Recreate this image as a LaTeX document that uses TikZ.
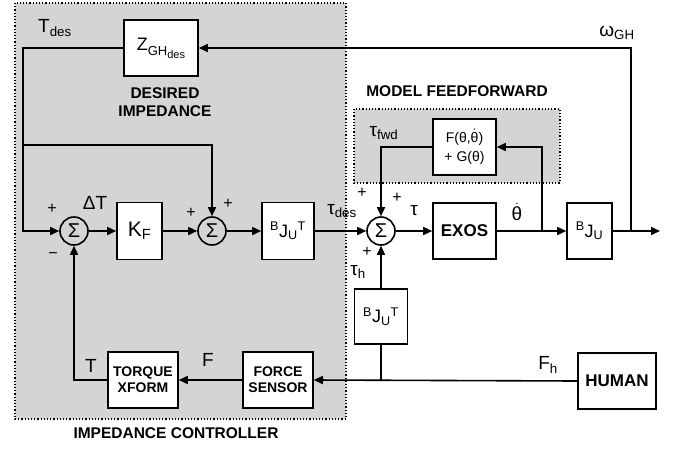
\documentclass[tikz,border=0pt]{standalone}
\usepackage{amsmath}
\usepackage{fontspec}
\setmainfont{Liberation Sans}
\usetikzlibrary{arrows.meta,positioning}
\definecolor{panel}{RGB}{212,212,212}
\tikzset{
    exo diagram/.style = {x=1pt, y=-1pt, >={Triangle[length=9pt,width=8pt]}},
    line/.style        = {line width=1.6pt},
    block/.style       = {draw, line width=1.6pt, fill=white, align=center,
                          inner sep=1pt, font=\fontsize{18}{19}\selectfont},
    tblock/.style      = {block, font=\bfseries\fontsize{14}{16}\selectfont},
    sum/.style         = {draw, line width=1.6pt, circle, minimum size=28pt,
                          inner sep=0pt, font=\fontsize{20}{20}\selectfont},
    sig/.style         = {font=\fontsize{19}{19}\selectfont},
    pm/.style          = {font=\fontsize{16}{16}\selectfont},
    caption/.style     = {font=\bfseries\fontsize{15.5}{18}\selectfont, align=center},
    enclosure/.style   = {draw, dotted, line width=1.2pt, fill=panel}
}
\newcommand{\thdot}{\ensuremath{\dot{\text{θ}}}}
\def\mainrow{231}
\def\toprow{48}
\def\botrow{380}

\begin{document}
\begin{tikzpicture}[exo diagram]
\useasboundingbox (0,0) rectangle (673,448);

% ================= Enclosures =================
\draw[enclosure] (15,3) rectangle (346,419);
\draw[enclosure] (354,109) rectangle (560,183);
\node[caption] (ctrlcap) at (176,433) {IMPEDANCE CONTROLLER};
\node[caption] (ffcap) at (457,91) {MODEL FEEDFORWARD};

% ================= Impedance controller =================
\node[block, minimum width=74pt, minimum height=56pt] (Z) at (161,\toprow)
    {Z\raisebox{-5pt}{\fontsize{13}{13}\selectfont GH\raisebox{-3pt}{\fontsize{11}{11}\selectfont des}}};
\node[caption] (Zcap) at (165,102) {DESIRED\\IMPEDANCE};
\node[sum] (sum1) at (74,\mainrow) {Σ};
\node[block, minimum width=45pt, minimum height=57pt,
      font=\fontsize{21}{21}\selectfont] (KF) at (139.5,\mainrow)
    {K\textsubscript{F}};
\node[sum] (sum2) at (212,\mainrow) {Σ};
\node[block, minimum width=52pt, minimum height=57pt] (BJT) at (288,\mainrow)
    {\textsuperscript{B}J\textsubscript{U}\textsuperscript{T}};
\node[tblock, minimum width=70pt, minimum height=56pt] (TX) at (143,\botrow)
    {TORQUE\\XFORM};
\node[tblock, minimum width=70pt, minimum height=56pt] (FS) at (278,\botrow)
    {FORCE\\SENSOR};

\coordinate (tdes) at (23,\mainrow);
\coordinate (tbr) at (23,145);
\draw[line,->] (Z.west) -| (tdes) -- (sum1.west);
\draw[line,->] (tbr) -| (sum2.north);
\draw[line,->] (sum1) -- (KF);
\draw[line,->] (KF) -- (sum2);
\draw[line,->] (sum2) -- (BJT);
\draw[line,->] (FS) -- (TX);
\draw[line,->] (TX.west) -| (sum1.south);

\node[sig] (Tdes) at (55,28) {T\textsubscript{des}};
\node[pm] (p1) at (52,209) {+};
\node[sig] (dT) at (95,203) {ΔT};
\node[pm] (m1) at (53,256) {−};
\node[pm] (p2) at (191,213) {+};
\node[pm] (p3) at (228,204) {+};
\node[sig] (Flab) at (208,360) {F};
\node[sig] (Tlab) at (91,366) {T};

% ================= Exoskeleton and feedforward =================
\node[sum] (sum3) at (381,\mainrow) {Σ};
\node[block, font=\bfseries\fontsize{17}{18}\selectfont,
      minimum width=63pt, minimum height=56pt] (EXOS) at (464.5,\mainrow) {EXOS};
\node[block, font=\fontsize{14}{19}\selectfont,
      minimum width=63pt, minimum height=56pt] (FG) at (464.5,147)
    {F(θ,\thdot)\\+ G(θ)};
\node[block, minimum width=45pt, minimum height=56pt] (BJU) at (589.5,\mainrow)
    {\textsuperscript{B}J\textsubscript{U}};
\node[block, minimum width=53pt, minimum height=55pt] (BJT2) at (381,316.5)
    {\textsuperscript{B}J\textsubscript{U}\textsuperscript{T}};
\node[block, font=\bfseries\fontsize{17}{18}\selectfont,
      minimum width=78pt, minimum height=56pt] (HUMAN) at (617,381) {HUMAN};

\coordinate (thtap) at (542,\mainrow);
\coordinate (omtap) at (631,\mainrow);
\coordinate (out) at (660,\mainrow);
\coordinate (fhtap) at (381,\botrow);
\draw[line,->] (BJT) -- (sum3);
\draw[line,->] (sum3) -- (EXOS);
\draw[line,->] (EXOS) -- (BJU);
\draw[line,->] (BJU) -- (out);
\draw[line,->] (thtap) |- (FG.east);
\draw[line,->] (FG.west) -| (sum3.north);
\draw[line,->] (omtap) |- (Z.east);
\draw[line,->] (BJT2) -- (sum3);
\draw[line] (fhtap) -- (BJT2.south);
\draw[line,->] (HUMAN.west) -- (FS.east);

\node[sig] (tdeslab) at (342,211) {τ\textsubscript{des}};
\node[sig] (tfwd) at (384,133) {τ\textsubscript{fwd}};
\node[pm] (p4) at (362,193) {+};
\node[pm] (p5) at (397,198) {+};
\node[sig] (tau) at (414,211) {τ};
\node[pm] (p6) at (367,252) {+};
\node[sig] (th) at (358,272) {τ\textsubscript{h}};
\node[sig] (thd) at (517,212) {\thdot};
\node[sig] (wGH) at (617,33) {ω\textsubscript{GH}};
\node[sig] (Fh) at (548,365) {F\textsubscript{h}};

\end{tikzpicture}
\end{document}
